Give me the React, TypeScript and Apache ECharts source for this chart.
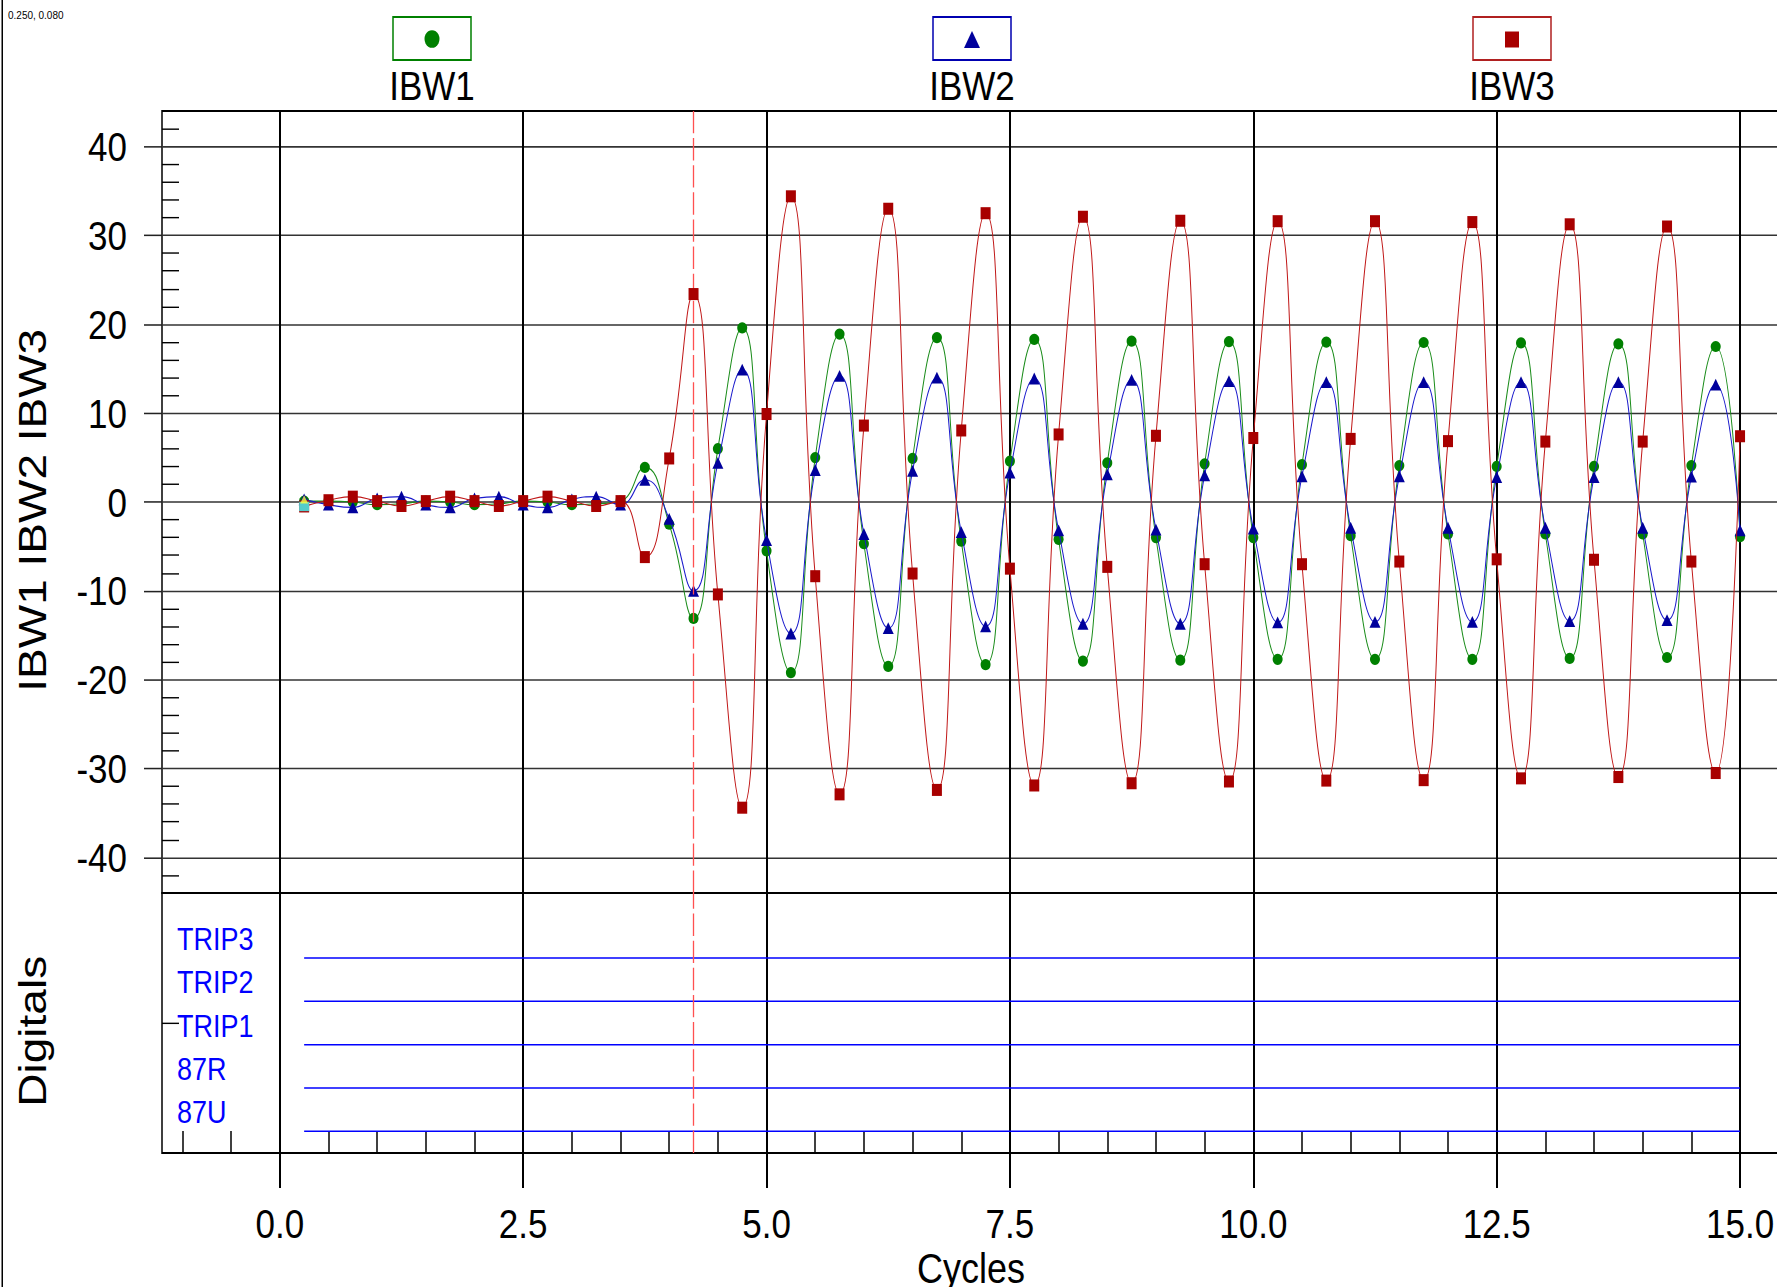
import React, { useEffect, useRef } from "react";
import * as echarts from "echarts";

// ---------------- DATA ----------------
const times = [
  0.25, 0.5, 0.75, 1.0, 1.25, 1.5, 1.75, 2.0, 2.25, 2.5, 2.75, 3.0, 3.25, 3.5, 3.75,
  4.0, 4.25, 4.5, 4.75, 5.0, 5.25, 5.5, 5.75, 6.0, 6.25, 6.5, 6.75, 7.0, 7.25, 7.5,
  7.75, 8.0, 8.25, 8.5, 8.75, 9.0, 9.25, 9.5, 9.75, 10.0, 10.25, 10.5, 10.75, 11.0,
  11.25, 11.5, 11.75, 12.0, 12.25, 12.5, 12.75, 13.0, 13.25, 13.5, 13.75, 14.0, 14.25,
  14.5, 14.75, 15.0,
];

const ibw1 = [
  0.1, 0.1, 0.0, -0.3, -0.2, 0.1, 0.0, -0.3, -0.2, 0.1, 0.0, -0.3, -0.2, 0.1, 3.9,
  -2.5, -13.1, 6.0, 19.6, -5.5, -19.2, 5.0, 18.9, -4.7, -18.5, 4.9, 18.5, -4.4, -18.3, 4.6,
  18.3, -4.2, -17.9, 4.4, 18.1, -4.0, -17.8, 4.3, 18.05, -4.0, -17.7, 4.2, 18.0, -3.8,
  -17.7, 4.1, 17.95, -3.6, -17.7, 4.0, 17.9, -3.6, -17.6, 4.0, 17.8, -3.6, -17.5,
  4.1, 17.5, -3.9,
];

const ibw2 = [
  0.3, -0.3, -0.6, 0.4, 0.6, -0.3, -0.6, 0.4, 0.6, -0.3, -0.6, 0.3, 0.6, -0.3, 2.5,
  -1.9, -10.0, 4.4, 14.9, -4.3, -14.8, 3.6, 14.2, -3.6, -14.2, 3.5, 14.0, -3.4, -14.0, 3.3,
  13.9, -3.2, -13.7, 3.1, 13.75, -3.1, -13.7, 3.0, 13.6, -3.0, -13.55, 2.9, 13.5, -2.9,
  -13.5, 2.9, 13.5, -2.9, -13.5, 2.8, 13.5, -2.9, -13.4, 2.8, 13.5, -2.9, -13.3,
  2.85, 13.2, -3.2,
];

const ibw3 = [
  -0.5, 0.2, 0.6, 0.1, -0.45, 0.1, 0.6, 0.1, -0.45, 0.1, 0.6, 0.1, -0.45, 0.1, -6.2,
  4.9, 23.4, -10.4, -34.4, 9.9, 34.4, -8.35, -32.9, 8.6, 33.0, -8.05, -32.4, 8.05, 32.5, -7.5,
  -31.9, 7.6, 32.1, -7.3, -31.65, 7.45, 31.65, -7.0, -31.45, 7.2, 31.6, -7.0, -31.35, 7.1,
  31.6, -6.7, -31.3, 6.85, 31.5, -6.45, -31.1, 6.8, 31.25, -6.5, -30.95, 6.8, 31.0,
  -6.7, -30.5, 7.4,
];

const seriesNames = ["IBW1", "IBW2", "IBW3"];

const xMajorTicks = [0, 2.5, 5, 7.5, 10, 12.5, 15];
const xMinorTicks = [
  -1, -0.5, 0.5, 1, 1.5, 2, 3, 3.5, 4, 4.5, 5.5, 6, 6.5, 7, 8, 8.5, 9, 9.5, 10.5, 11,
  11.5, 12, 13, 13.5, 14, 14.5, 15.5, 16,
];
const yMajorTicks = [-40, -30, -20, -10, 0, 10, 20, 30, 40];
const yMinorTicks = [
  -42, -38, -36, -34, -32, -28, -26, -24, -22, -18, -16, -14, -12, -8, -6, -4, -2,
  2, 4, 6, 8, 12, 14, 16, 18, 22, 24, 26, 28, 32, 34, 36, 38, 42,
];
const yRange = [-44, 44];

const digitalNames = ["87U", "87R", "TRIP1", "TRIP2", "TRIP3"];
const digitalTimes = [0.25, 15.0];
const digitalStates = [
  [0, 0],
  [0, 0],
  [0, 0],
  [0, 0],
  [0, 0],
];
const digitalLabelValues = [0, 1, 2, 3, 4];
const digitalMidTick = [2.5];
const digitalRange = [-0.5, 5.5];

const cursorTime = 4.25;
const cornerText = "0.250, 0.080";

// ---------------- LAYOUT ----------------
const W = 1777;
const H_FINAL = 1287;
const H_INT = 1091;
const S = H_FINAL / H_INT; // vertical stretch of the original picture
const Y = (px: number) => px / S;

const FONT = "'Liberation Sans', Arial, Helvetica, sans-serif";
const GRID_LEFT = 162;
const GRID_W = 1618;
const X0_PX = 279.8;
const PX_PER_CYCLE = 97.35;
const XMIN = (GRID_LEFT - X0_PX) / PX_PER_CYCLE;
const XMAX = XMIN + GRID_W / PX_PER_CYCLE;

const COLORS = {
  g: "#008000",
  gLine: "#1a8c1a",
  b: "#00009c",
  bLine: "#1a1acc",
  r: "#a80000",
  rLine: "#c01818",
};

function buildOption() {
  const cursorMarkLine = {
    silent: true,
    symbol: ["none", "none"],
    label: { show: false },
    lineStyle: { color: "#ff5050", type: [19, 4], width: 1.3 },
    data: [{ xAxis: cursorTime }],
  };

  const analog = (
    name: string,
    vals: number[],
    color: string,
    lineColor: string,
    symbol: string,
    size: number[],
    z: number,
    extra: any = {}
  ) => ({
    type: "line",
    name,
    xAxisIndex: 0,
    yAxisIndex: 0,
    data: times.map((t, i) => [t, vals[i]]),
    smooth: 0.5,
    symbol,
    symbolSize: size,
    showAllSymbol: true,
    itemStyle: { color },
    lineStyle: { color: lineColor, width: 1 },
    z,
    ...extra,
  });

  const series: any[] = [
    analog(seriesNames[0], ibw1, COLORS.g, COLORS.gLine, "circle", [10, 9.5], 3),
    analog(seriesNames[1], ibw2, COLORS.b, COLORS.bLine, "triangle", [11, 10], 4),
    analog(seriesNames[2], ibw3, COLORS.r, COLORS.rLine, "rect", [10, 10.2], 5, {
      markLine: cursorMarkLine,
    }),
    {
      type: "scatter",
      name: "cursor3",
      xAxisIndex: 0,
      yAxisIndex: 0,
      data: [[times[0], ibw3[0]]],
      symbol: "rect",
      symbolSize: [10, 8],
      itemStyle: { color: "#40ffff" },
      z: 6,
    },
    {
      type: "scatter",
      name: "cursor2",
      xAxisIndex: 0,
      yAxisIndex: 0,
      data: [[times[0], ibw2[0]]],
      symbol: "triangle",
      symbolSize: [8, 7],
      itemStyle: { color: "#ffff40" },
      z: 6,
    },
  ];

  digitalNames.forEach((nm, k) => {
    series.push({
      type: "line",
      name: nm,
      xAxisIndex: 1,
      yAxisIndex: 2,
      data: digitalTimes.map((t, i) => [t, k + digitalStates[k][i]]),
      symbol: "none",
      lineStyle: { color: "#0000ff", width: 1.3 },
      z: 3,
      ...(k === 0 ? { markLine: cursorMarkLine } : {}),
    });
  });

  const legendCenters = [432, 972, 1512];
  const legendColors = [COLORS.g, "#0000b0", "#b02020"];
  const legendMarkColors = [COLORS.g, COLORS.b, COLORS.r];
  const graphic: any[] = [
    {
      type: "rect",
      silent: true,
      shape: { x: 1.5, y: 0, width: 1.5, height: H_INT },
      style: { fill: "#000" },
    },
    {
      type: "text",
      x: 8,
      y: Y(15),
      style: {
        text: cornerText,
        fontSize: 10,
        fontFamily: FONT,
        fill: "#000",
        verticalAlign: "middle",
      },
    },
  ];
  seriesNames.forEach((nm, i) => {
    const cx = legendCenters[i];
    graphic.push({
      type: "rect",
      shape: { x: cx - 39, y: Y(17), width: 78, height: Y(60) - Y(17) },
      style: { fill: "#fff", stroke: legendColors[i], lineWidth: 1.5 },
    });
    if (i === 0) {
      graphic.push({
        type: "circle",
        shape: { cx, cy: Y(39), r: 7.5 },
        style: { fill: legendMarkColors[i] },
      });
    } else if (i === 1) {
      graphic.push({
        type: "polygon",
        shape: {
          points: [
            [cx, Y(31)],
            [cx - 8, Y(48)],
            [cx + 8, Y(48)],
          ],
        },
        style: { fill: legendMarkColors[i] },
      });
    } else {
      graphic.push({
        type: "rect",
        shape: { x: cx - 7, y: Y(31.5), width: 14, height: Y(47.5) - Y(31.5) },
        style: { fill: legendMarkColors[i] },
      });
    }
    graphic.push({
      type: "text",
      x: cx,
      y: Y(85),
      style: {
        text: nm,
        fontSize: 35,
        fontFamily: FONT,
        fill: "#000",
        align: "center",
        verticalAlign: "middle",
      },
    });
  });

  const labelStyle = { color: "#000", fontSize: 35, fontFamily: FONT };
  const titleStyle = {
    color: "#000",
    fontSize: 39,
    fontFamily: FONT,
    padding: [0, 14, 0, 0],
  };

  return {
    animation: false,
    backgroundColor: "#ffffff",
    textStyle: { fontFamily: FONT },
    grid: [
      {
        left: GRID_LEFT,
        top: Y(111),
        width: GRID_W,
        height: Y(893) - Y(111),
        show: true,
        borderColor: "#000",
        borderWidth: 1.5,
        containLabel: false,
        outerBoundsMode: "none",
      },
      {
        left: GRID_LEFT,
        top: Y(893),
        width: GRID_W,
        height: Y(1153) - Y(893),
        show: true,
        borderColor: "#000",
        borderWidth: 1.5,
        containLabel: false,
        outerBoundsMode: "none",
      },
    ],
    xAxis: [
      {
        gridIndex: 0,
        type: "value",
        position: "bottom",
        min: XMIN,
        max: XMAX,
        axisLine: { show: false, onZero: false },
        axisTick: { show: false, customValues: xMajorTicks },
        axisLabel: { show: false, customValues: xMajorTicks },
        splitLine: { show: true, lineStyle: { color: "#000", width: 2 } },
      },
      {
        gridIndex: 1,
        type: "value",
        position: "bottom",
        min: XMIN,
        max: XMAX,
        name: "Cycles",
        nameLocation: "middle",
        nameGap: 79,
        nameTextStyle: { color: "#000", fontFamily: FONT, fontSize: 36 },
        axisLine: { show: false, onZero: false },
        axisTick: {
          show: true,
          inside: false,
          length: Y(35),
          customValues: xMajorTicks,
          lineStyle: { color: "#000", width: 2 },
        },
        axisLabel: {
          show: true,
          customValues: xMajorTicks,
          margin: 42,
          ...labelStyle,
          formatter: (v: number) => v.toFixed(1),
        },
        splitLine: { show: true, lineStyle: { color: "#000", width: 2 } },
      },
      {
        gridIndex: 1,
        type: "value",
        position: "bottom",
        min: XMIN,
        max: XMAX,
        axisLine: { show: false, onZero: false },
        axisTick: {
          show: true,
          inside: true,
          length: Y(22),
          customValues: xMinorTicks,
          lineStyle: { color: "#000", width: 1.5 },
        },
        axisLabel: { show: false },
        splitLine: { show: false },
      },
    ],
    yAxis: [
      {
        gridIndex: 0,
        type: "value",
        position: "left",
        min: yRange[0],
        max: yRange[1],
        name: "IBW1 IBW2 IBW3",
        nameLocation: "middle",
        nameRotate: 90,
        nameGap: 110,
        nameTextStyle: titleStyle,
        axisLine: { show: false, onZero: false },
        axisTick: {
          show: true,
          inside: false,
          length: 18,
          customValues: yMajorTicks,
          lineStyle: { color: "#222", width: 1.3 },
        },
        axisLabel: {
          show: true,
          customValues: yMajorTicks,
          margin: 35,
          ...labelStyle,
          formatter: (v: number) => String(v),
        },
        splitLine: { show: true, lineStyle: { color: "#333", width: 1.3 } },
      },
      {
        gridIndex: 0,
        type: "value",
        position: "left",
        min: yRange[0],
        max: yRange[1],
        axisLine: { show: false, onZero: false },
        axisTick: {
          show: true,
          inside: true,
          length: 17,
          customValues: yMinorTicks,
          lineStyle: { color: "#000", width: 1.2 },
        },
        axisLabel: { show: false },
        splitLine: { show: false },
      },
      {
        gridIndex: 1,
        type: "value",
        position: "left",
        min: digitalRange[0],
        max: digitalRange[1],
        name: "Digitals",
        nameLocation: "middle",
        nameRotate: 90,
        nameGap: 110,
        nameTextStyle: titleStyle,
        axisLine: { show: false, onZero: false },
        axisTick: {
          show: true,
          inside: true,
          length: 17,
          customValues: digitalMidTick,
          lineStyle: { color: "#000", width: 1.2 },
        },
        axisLabel: {
          show: true,
          inside: true,
          margin: 15,
          customValues: digitalLabelValues,
          color: "#0000ff",
          fontSize: 27,
          fontFamily: FONT,
          verticalAlign: "bottom",
          padding: [0, 0, 3, 0],
          formatter: (v: number) => digitalNames[Math.round(v)] ?? "",
        },
        splitLine: { show: false },
      },
    ],
    series,
    graphic,
  };
}

export default function App() {
  const ref = useRef<HTMLDivElement>(null);
  useEffect(() => {
    if (!ref.current) return;
    const chart = echarts.init(ref.current, undefined, { renderer: "svg" });
    chart.setOption(buildOption() as any);
    return () => chart.dispose();
  }, []);
  return (
    <div
      style={{
        position: "absolute",
        left: 0,
        top: 0,
        width: W,
        height: H_FINAL,
        overflow: "hidden",
        background: "#fff",
      }}
    >
      <div
        ref={ref}
        style={{
          width: W,
          height: H_INT,
          transform: `scaleY(${S})`,
          transformOrigin: "0 0",
        }}
      />
    </div>
  );
}
